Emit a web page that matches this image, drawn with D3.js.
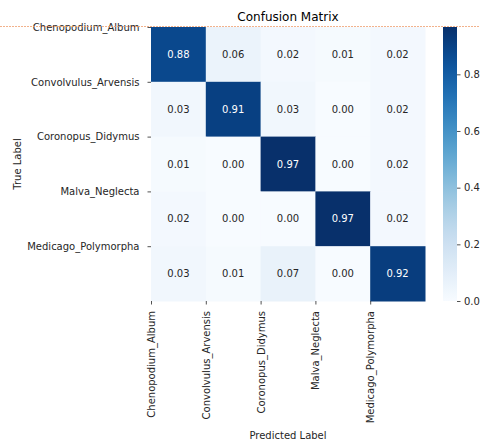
<!DOCTYPE html>
<html><head><meta charset="utf-8">
<script src="https://cdn.jsdelivr.net/npm/d3@7"></script>
<style>body{margin:0;background:#fff}svg{display:block;font-family:"DejaVu Sans",sans-serif}</style>
</head><body><svg id="c" width="480" height="443"></svg>
<script>
const classes = ["Chenopodium_Album","Convolvulus_Arvensis","Coronopus_Didymus","Malva_Neglecta","Medicago_Polymorpha"];
const row0 = [0.88,0.06,0.02,0.01,0.02];
const row1 = [0.03,0.91,0.03,0.00,0.02];
const row2 = [0.01,0.00,0.97,0.00,0.02];
const row3 = [0.02,0.00,0.00,0.97,0.02];
const row4 = [0.03,0.01,0.07,0.00,0.92];
const matrix = [row0,row1,row2,row3,row4];
const cbTicks = [0.0,0.2,0.4,0.6,0.8];
const vmax = 0.967;

const FONT = "DejaVu Sans";
const svg = d3.select("#c");
const L=151, R=425, T=27, B=301;
const x = d3.scaleBand().domain(d3.range(5)).range([L,R]);
const y = d3.scaleBand().domain(d3.range(5)).range([T,B]);
const color = d3.scaleSequential(d3.interpolateBlues).domain([0,vmax]);

const cells=[];
matrix.forEach((r,i)=>r.forEach((v,j)=>cells.push({i,j,v})));
svg.append("g").selectAll("rect").data(cells).join("rect")
  .attr("x",d=>x(d.j)).attr("y",d=>y(d.i))
  .attr("width",x.bandwidth()+0.5).attr("height",y.bandwidth()+0.5)
  .attr("fill",d=>color(d.v));
function lum(c){const r=d3.rgb(c);const f=v=>{v/=255;return v<=0.03928?v/12.92:Math.pow((v+0.055)/1.055,2.4)};return 0.2126*f(r.r)+0.7152*f(r.g)+0.0722*f(r.b);}
svg.append("g").selectAll("text").data(cells).join("text")
  .attr("x",d=>x(d.j)+x.bandwidth()/2).attr("y",d=>y(d.i)+y.bandwidth()/2)
  .attr("dy","0.36em").attr("text-anchor","middle").attr("font-size",10).attr("font-family",FONT)
  .attr("fill",d=>lum(color(d.v))>0.408?"#262626":"#ffffff")
  .text(d=>d3.format(".2f")(d.v));

const xt = d3.scaleLinear().domain([0,5]).range([L,R]);
const yt = d3.scaleLinear().domain([0,5]).range([T,B]);
function styleAxis(g){
  g.attr("font-family",FONT).attr("font-size",10);
  g.select(".domain").remove();
  g.selectAll("line").attr("stroke","#262626").attr("stroke-width",0.8);
  g.selectAll("text").attr("fill","#262626");
}
const xAxis = svg.append("g").attr("transform",`translate(0,${B})`)
  .call(d3.axisBottom(xt).tickValues(d3.range(5)).tickFormat(i=>classes[i]).tickSize(3.5).tickPadding(3.5));
styleAxis(xAxis);
xAxis.selectAll("text")
  .attr("transform","rotate(-90)").attr("text-anchor","end")
  .attr("x",-10).attr("y",0).attr("dy","0.35em");
const yAxis = svg.append("g").attr("transform",`translate(${L},0)`)
  .call(d3.axisLeft(yt).tickValues(d3.range(5)).tickFormat(i=>classes[i]).tickSize(3.5).tickPadding(8));
styleAxis(yAxis);

const cbX=443, cbW=14;
const defs=svg.append("defs");
const grad=defs.append("linearGradient").attr("id","g").attr("x1",0).attr("y1",1).attr("x2",0).attr("y2",0);
d3.range(0,1.0001,0.05).forEach(t=>grad.append("stop").attr("offset",t).attr("stop-color",d3.interpolateBlues(t)));
svg.append("rect").attr("x",cbX).attr("y",T).attr("width",cbW).attr("height",B-T).attr("fill","url(#g)");
const cy = d3.scaleLinear().domain([0,vmax]).range([B,T]);
const cAxis = svg.append("g").attr("transform",`translate(${cbX+cbW},0)`)
  .call(d3.axisRight(cy).tickValues(cbTicks).tickFormat(d3.format(".1f")).tickSize(3.5).tickPadding(3.5));
styleAxis(cAxis);

svg.append("text").attr("x",(L+R)/2).attr("y",21).attr("text-anchor","middle").attr("font-size",12).attr("font-family",FONT).attr("fill","#000").text("Confusion Matrix");
svg.append("text").attr("x",(L+R)/2).attr("y",439).attr("text-anchor","middle").attr("font-size",10).attr("font-family",FONT).attr("fill","#262626").text("Predicted Label");
svg.append("text").attr("transform",`translate(21,${(T+B)/2}) rotate(-90)`).attr("text-anchor","middle").attr("font-size",10).attr("font-family",FONT).attr("fill","#262626").text("True Label");

svg.append("line").attr("x1",0).attr("x2",480).attr("y1",26.5).attr("y2",26.5)
  .attr("stroke","#f0a070").attr("stroke-width",1).attr("stroke-dasharray","2,1").attr("opacity",0.8);
</script></body></html>
